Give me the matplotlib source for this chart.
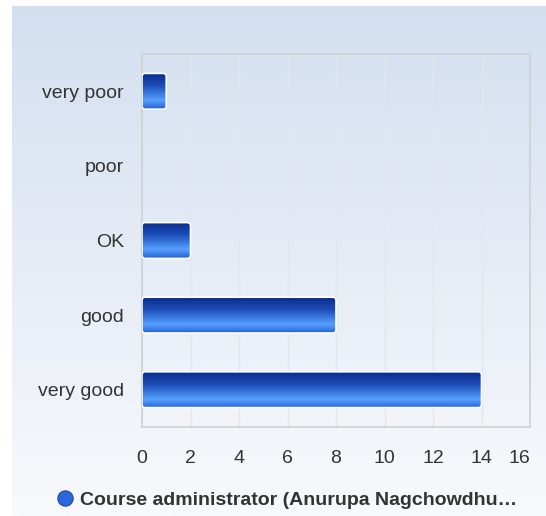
import matplotlib.pyplot as plt
import numpy as np
from matplotlib.patches import FancyBboxPatch
from matplotlib.colors import LinearSegmentedColormap
from matplotlib.lines import Line2D

plt.rcParams['font.family'] = ['Liberation Sans', 'DejaVu Sans']

categories = ["very poor", "poor", "OK", "good", "very good"]
counts = [1, 0, 2, 8, 14]
series_name = "Course administrator (Anurupa Nagchowdhu\u2026"
xticks = np.arange(0, 17, 2)

W, H = 546, 516
fig = plt.figure(figsize=(W / 100, H / 100), dpi=100)
fig.patch.set_facecolor("white")

# soft blue page background
bg = fig.add_axes([12 / W, 0, 1 - 12 / W, 1 - 6 / H], zorder=-10)
bg_cmap = LinearSegmentedColormap.from_list("bg", ["#d3dff0", "#e6ecf6", "#f8f9fc"])
bg.imshow(np.linspace(0, 1, 256).reshape(-1, 1), aspect="auto", cmap=bg_cmap,
          extent=[0, 1, 0, 1])
bg.axis("off")

ax = fig.add_axes([142 / W, 1 - 427 / H, (530 - 142) / W, (427 - 54) / H])
ax.set_facecolor("none")

y = np.arange(len(categories))
bars = ax.barh(y, counts, height=0.48, color="none")

# gradient bars with rounded ends
bar_cmap = LinearSegmentedColormap.from_list(
    "bar", [(0, "#0a2c8c"), (0.35, "#1d4db8"), (0.68, "#4a90f2"),
            (0.76, "#58a0ff"), (1, "#2762d2")])
grad = np.linspace(0, 1, 100).reshape(-1, 1)
px_x = (530 - 142) / 16
px_y = (427 - 54) / len(categories)
for b in bars:
    x0, y0 = b.get_x(), b.get_y()
    w, h = b.get_width(), b.get_height()
    if w <= 0:
        continue
    r = 3 / px_x
    patch = FancyBboxPatch((x0, y0), w, h,
                           boxstyle=f"round,pad=0,rounding_size={r}",
                           mutation_aspect=px_x / px_y,
                           facecolor="none", edgecolor="white", lw=1.2, zorder=4)
    ax.add_patch(patch)
    im = ax.imshow(grad, aspect="auto", cmap=bar_cmap,
                   extent=[x0, x0 + w, y0 + h, y0], zorder=3)
    im.set_clip_path(patch)

ax.set_xlim(0, 16)
ax.set_ylim(len(categories) - 0.5, -0.5)

ax.set_xticks(xticks)
ax.set_xticklabels([str(t) for t in xticks])
ax.set_yticks(y)
ax.set_yticklabels(categories)
ax.xaxis.grid(True, color="#e6e6e6", lw=1)
ax.set_axisbelow(True)
ax.tick_params(axis="x", length=0, pad=16.5, labelsize=14, labelcolor="#333333")
ax.tick_params(axis="y", length=0, pad=13, labelsize=14, labelcolor="#333333")
ax.get_xticklabels()[-1].set_ha("right")
for s in ax.spines.values():
    s.set_color("#d0d0d0")
    s.set_linewidth(1.2)

handle = Line2D([], [], marker="o", ls="none", markersize=11,
                markerfacecolor="#2a67d8", markeredgecolor="#1b48a8", markeredgewidth=0.8)
leg = fig.legend([handle], [series_name], loc="center", bbox_to_anchor=(0.522, 1 - 500 / H),
                 frameon=False, handletextpad=0.2, borderpad=0, handlelength=1.2,
                 prop={"weight": "bold", "size": 14})
for t in leg.get_texts():
    t.set_color("#333333")

fig.savefig("out.png", dpi=100)
